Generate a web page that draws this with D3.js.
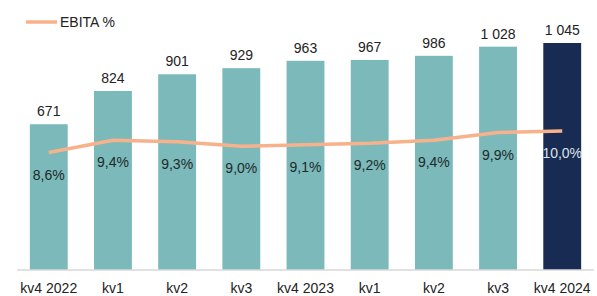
<!DOCTYPE html>
<html>
<head>
<meta charset="utf-8">
<script src="https://cdn.jsdelivr.net/npm/d3@7"></script>
<style>
  body { margin: 0; background: #fff; }
  svg text { font-family: "Liberation Sans", Arial, sans-serif; }
</style>
</head>
<body>
<svg id="chart" width="597" height="296"></svg>
<script>
const categories = ["kv4 2022", "kv1", "kv2", "kv3", "kv4 2023", "kv1", "kv2", "kv3", "kv4 2024"];
const sales = [671, 824, 901, 929, 963, 967, 986, 1028, 1045];
const ebitaPct = [8.6, 9.4, 9.3, 9.0, 9.1, 9.2, 9.4, 9.9, 10.0];
const valueLabels = ["671", "824", "901", "929", "963", "967", "986", "1 028", "1 045"];
const pctLabels = ["8,6%", "9,4%", "9,3%", "9,0%", "9,1%", "9,2%", "9,4%", "9,9%", "10,0%"];

const svg = d3.select("#chart");
const width = 597, height = 296;
const margin = { left: 17, right: 3, bottom: 26 };
const baseY = height - margin.bottom;

const x = d3.scaleBand()
  .domain(d3.range(categories.length))
  .range([margin.left, width - margin.right])
  .paddingInner(0.41)
  .paddingOuter(0.2);

const y = d3.scaleLinear().domain([0, 1045]).range([baseY, 43]);
const y2 = d3.scaleLinear().domain([8.6, 10.0]).range([152.5, 131]);

const teal = "#7bb9ba", navy = "#182b52", orange = "#f8b28b";

// bars
svg.append("g")
  .selectAll("rect")
  .data(sales)
  .join("rect")
  .attr("x", (d, i) => x(i))
  .attr("width", x.bandwidth())
  .attr("y", d => y(d))
  .attr("height", d => y(0) - y(d))
  .attr("fill", (d, i) => i === sales.length - 1 ? navy : teal);

// axis
const xAxis = svg.append("g")
  .attr("transform", `translate(0,${baseY})`)
  .call(d3.axisBottom(x).tickSize(0).tickFormat(i => categories[i]));
xAxis.select(".domain").attr("stroke", "#d9d9d9").attr("stroke-width", 1.5)
  .attr("d", `M${margin.left},0H${width - margin.right}`);
xAxis.selectAll("text")
  .attr("dy", 0)
  .attr("y", 23)
  .attr("font-size", 14)
  .attr("fill", "#222")
  .style("font-family", "'Liberation Sans', Arial, sans-serif");

// value labels
svg.append("g")
  .selectAll("text")
  .data(sales)
  .join("text")
  .attr("x", (d, i) => x(i) + x.bandwidth() / 2)
  .attr("y", d => y(d) - 8)
  .attr("text-anchor", "middle")
  .attr("font-size", 14)
  .attr("fill", "#222")
  .text((d, i) => valueLabels[i]);

// line
const line = d3.line()
  .x((d, i) => x(i) + x.bandwidth() / 2)
  .y(d => y2(d));

svg.append("path")
  .datum(ebitaPct)
  .attr("d", line)
  .attr("fill", "none")
  .attr("stroke", orange)
  .attr("stroke-width", 3.5)
  .attr("stroke-linejoin", "round");

// pct labels
svg.append("g")
  .selectAll("text")
  .data(ebitaPct)
  .join("text")
  .attr("x", (d, i) => x(i) + x.bandwidth() / 2)
  .attr("y", d => y2(d) + 27)
  .attr("text-anchor", "middle")
  .attr("font-size", 14)
  .attr("fill", (d, i) => i === ebitaPct.length - 1 ? "#dfe3ea" : "#1e2a2a")
  .text((d, i) => pctLabels[i]);

// legend
const legend = svg.append("g");
legend.append("line")
  .attr("x1", 26).attr("x2", 57).attr("y1", 22).attr("y2", 22)
  .attr("stroke", orange).attr("stroke-width", 3.5);
legend.append("text")
  .attr("x", 60).attr("y", 27)
  .attr("font-size", 14)
  .attr("fill", "#222")
  .text("EBITA %");
</script>
</body>
</html>
